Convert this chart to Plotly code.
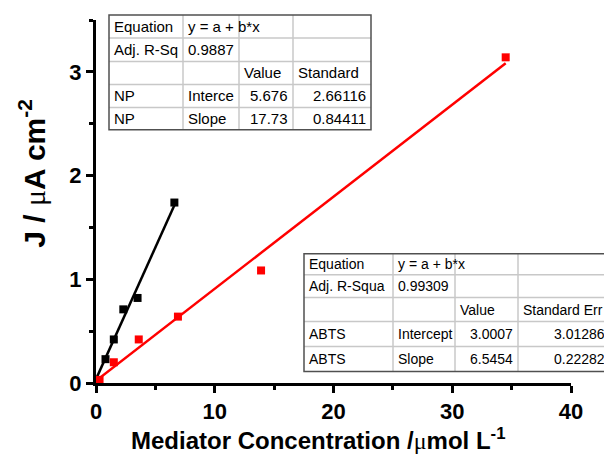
import numpy as np
import plotly.graph_objects as go

# ---- data ----
np_x = [0.8, 1.5, 2.3, 3.5, 6.6]
np_y = [0.23, 0.42, 0.71, 0.82, 1.74]
abts_x = [0.3, 1.5, 3.6, 6.9, 13.9, 34.5]
abts_y = [0.03, 0.20, 0.42, 0.64, 1.085, 3.14]

np_table = [
    ["Equation", "y = a + b*x", "", ""],
    ["Adj. R-Sq", "0.9887", "", ""],
    ["", "", "Value", "Standard"],
    ["NP", "Interce", "5.676", "2.66116"],
    ["NP", "Slope", "17.73", "0.84411"],
]
abts_table = [
    ["Equation", "y = a + b*x", "", ""],
    ["Adj. R-Squa", "0.99309", "", ""],
    ["", "", "Value", "Standard Err"],
    ["ABTS", "Intercept", "3.0007", "3.01286"],
    ["ABTS", "Slope", "6.5454", "0.22282"],
]

OFF = 8  # page body margin
W, H = 612 - OFF, 459 - OFF
# screen-pixel plot area
SL, SR, ST, SB = 96, 571, 20, 383.5
ML, MT = SL - OFF, ST - OFF
MR = W - (SR - OFF)
MB = H - (SB - OFF)
PW, PH = SR - SL, SB - ST

def px(x):
    return (x - SL) / PW

def py(y):
    return (SB - y) / PH

fig = go.Figure()

def fit_line(xs, ys, color):
    b, a = np.polyfit(xs, ys, 1)
    xx = np.array([0.0, max(xs)])
    fig.add_trace(go.Scatter(x=xx, y=a + b * xx, mode="lines",
                             line=dict(color=color, width=2.5), showlegend=False,
                             hoverinfo="skip"))

fit_line(np_x, np_y, "black")
fit_line(abts_x, abts_y, "red")
fig.add_trace(go.Scatter(x=np_x, y=np_y, mode="markers",
                         marker=dict(symbol="square", size=8, color="black"), showlegend=False))
fig.add_trace(go.Scatter(x=abts_x, y=abts_y, mode="markers",
                         marker=dict(symbol="square", size=8, color="red"), showlegend=False))

shapes = []
annotations = []

def draw_table(cells, cols, rows, fsize, aligns):
    shapes.append(dict(type="rect", xref="paper", yref="paper",
                       x0=px(cols[0]), x1=px(cols[-1]), y0=py(rows[0]), y1=py(rows[-1]),
                       fillcolor="white", line=dict(width=0), layer="above"))
    for c in cols[1:-1]:
        shapes.append(dict(type="line", xref="paper", yref="paper",
                           x0=px(c), x1=px(c), y0=py(rows[0]), y1=py(rows[-1]),
                           line=dict(color="#c8c8c8", width=1.5)))
    for r in rows[1:-1]:
        shapes.append(dict(type="line", xref="paper", yref="paper",
                           x0=px(cols[0]), x1=px(cols[-1]), y0=py(r), y1=py(r),
                           line=dict(color="#c8c8c8", width=1.5)))
    shapes.append(dict(type="rect", xref="paper", yref="paper",
                       x0=px(cols[0]), x1=px(cols[-1]), y0=py(rows[0]), y1=py(rows[-1]),
                       line=dict(color="#505050", width=1.5)))
    for i, row in enumerate(cells):
        yc = (rows[i] + rows[i + 1]) / 2
        for j, t in enumerate(row):
            if not t:
                continue
            al = aligns[i][j]
            if al == "left":
                x = cols[j] + 3
                xa = "left"
            else:
                x = cols[j + 1] - 3
                xa = "right"
            annotations.append(dict(text=t, x=px(x), y=py(yc), xref="paper", yref="paper",
                                    xanchor=xa, yanchor="middle", showarrow=False,
                                    font=dict(family="Liberation Sans, Arial", size=fsize,
                                              color="black")))

al_np = [["left"] * 4, ["left"] * 4, ["left"] * 4,
         ["left", "left", "right", "right"], ["left", "left", "right", "right"]]
draw_table(np_table, [109, 183, 239, 293, 371], [15, 38, 61.5, 84.5, 107.5, 130], 15, al_np)
draw_table(abts_table, [304, 393, 455, 518, 610], [254, 275, 298, 322, 347, 372], 14, al_np)

annotations.append(dict(text="J / <span style='font-family:serif;font-weight:normal'>μ</span>A cm<sup>-2</sup>",
                        x=px(32), y=py(174), xref="paper", yref="paper",
                        textangle=-90, showarrow=False, xanchor="center", yanchor="middle",
                        font=dict(family="Liberation Sans, Arial", size=30, color="black",
                                  weight="bold")))
annotations.append(dict(text="Mediator Concentration /<span style='font-family:serif;font-weight:normal'>μ</span>mol L<sup>-1</sup>",
                        x=px(318), y=py(440), xref="paper", yref="paper",
                        showarrow=False, xanchor="center", yanchor="middle",
                        font=dict(family="Liberation Sans, Arial", size=24, color="black",
                                  weight="bold")))

axis_common = dict(showgrid=False, zeroline=False, showline=True, linecolor="black",
                   linewidth=3, ticks="outside", ticklen=7, tickwidth=3, tickcolor="black",
                   tickfont=dict(family="Liberation Sans, Arial", size=22, color="black",
                                 weight="bold"))

fig.update_layout(
    width=W, height=H,
    margin=dict(l=ML, r=MR, t=MT, b=MB),
    plot_bgcolor="white", paper_bgcolor="white",
    xaxis=dict(range=[0, 40], tickvals=[0, 10, 20, 30, 40],
               minor=dict(tickvals=[5, 15, 25, 35], ticks="outside",
                          ticklen=4, tickwidth=3, tickcolor="black"),
               **axis_common),
    yaxis=dict(range=[0, 3.5], tickvals=[0, 1, 2, 3],
               minor=dict(tickvals=[0.5, 1.5, 2.5, 3.5], ticks="outside",
                          ticklen=4, tickwidth=3, tickcolor="black"),
               **axis_common),
    shapes=shapes, annotations=annotations,
)

fig.write_html("out.html")
